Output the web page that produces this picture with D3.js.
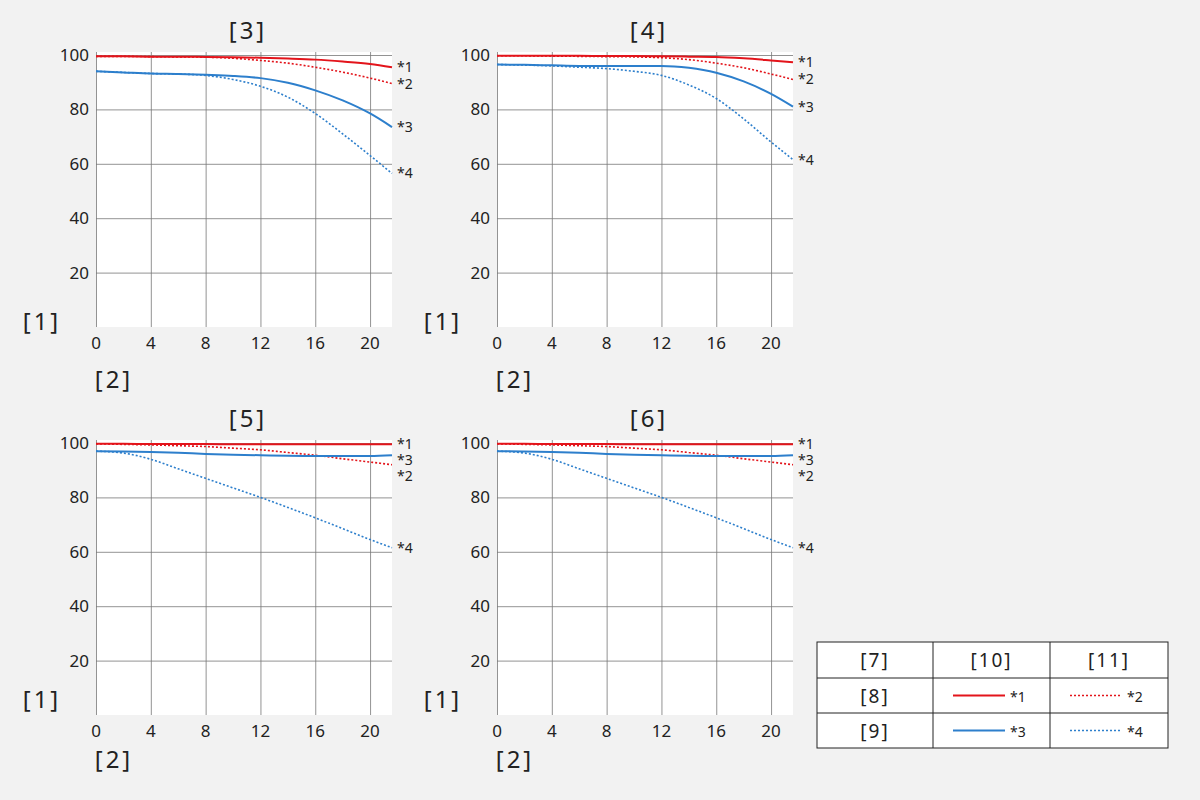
<!DOCTYPE html>
<html><head><meta charset="utf-8">
<script src="https://cdn.jsdelivr.net/npm/d3@7.9.0/dist/d3.min.js"></script>
<style>
body{margin:0;background:#f2f2f2;font-family:"Noto Sans","Open Sans",sans-serif;}
</style></head>
<body><svg id="chart" width="1200" height="800"></svg>
<script>
const xs = [0, 2, 4, 6, 8, 10, 12, 14, 16, 18, 20, 21.6];
const xTicks = [0, 4, 8, 12, 16, 20];
const yTicks = [20, 40, 60, 80, 100];
const panelTitles = ['[3]', '[4]', '[5]', '[6]'];
const seriesNames = ['*1', '*2', '*3', '*4'];

// values per panel, series order *1..*4
const panel3 = [
  [99.5, 99.5, 99.4, 99.4, 99.3, 99.2, 99.0, 98.7, 98.3, 97.6, 96.7, 95.5],
  [99.5, 99.5, 99.4, 99.3, 99.2, 98.8, 98.0, 97.0, 95.5, 93.7, 91.5, 89.5],
  [94.0, 93.6, 93.2, 93.0, 92.7, 92.3, 91.5, 89.8, 87.0, 83.3, 78.5, 73.5],
  [94.0, 93.6, 93.2, 93.0, 92.5, 91.0, 88.5, 84.5, 78.5, 71.0, 63.0, 56.5],
];
const panel4 = [
  [99.7, 99.7, 99.7, 99.7, 99.6, 99.6, 99.5, 99.4, 99.3, 98.8, 98.0, 97.3],
  [99.7, 99.7, 99.6, 99.5, 99.4, 99.3, 99.0, 98.3, 97.0, 95.3, 93.0, 91.0],
  [96.5, 96.4, 96.2, 96.0, 96.0, 96.0, 96.0, 95.3, 93.5, 90.3, 85.7, 81.0],
  [96.5, 96.3, 96.0, 95.5, 95.0, 94.0, 92.5, 89.0, 84.0, 76.5, 68.0, 61.5],
];
const panel5 = [
  [99.7, 99.7, 99.6, 99.6, 99.6, 99.5, 99.5, 99.5, 99.5, 99.5, 99.5, 99.5],
  [99.7, 99.5, 99.3, 99.0, 98.7, 98.1, 97.5, 96.5, 95.5, 94.2, 93.0, 92.0],
  [97.0, 96.9, 96.7, 96.4, 96.0, 95.7, 95.5, 95.3, 95.2, 95.2, 95.2, 95.5],
  [97.0, 96.3, 94.0, 90.5, 87.0, 83.5, 80.0, 76.3, 72.5, 68.5, 64.5, 61.5],
];
const panel6 = [
  [99.7, 99.7, 99.6, 99.6, 99.6, 99.5, 99.5, 99.5, 99.5, 99.5, 99.5, 99.5],
  [99.7, 99.5, 99.3, 99.0, 98.7, 98.1, 97.5, 96.5, 95.5, 94.2, 93.0, 92.0],
  [97.0, 96.9, 96.7, 96.4, 96.0, 95.7, 95.5, 95.3, 95.2, 95.2, 95.2, 95.5],
  [97.0, 96.3, 94.0, 90.5, 87.0, 83.5, 80.0, 76.3, 72.5, 68.5, 64.5, 61.5],
];
const panels = [panel3, panel4, panel5, panel6];

const RED = '#e3141b', BLUE = '#2d7fcc';
const styles = [
  { color: RED, dash: null, w: 2 },
  { color: RED, dash: '2,2', w: 1.6 },
  { color: BLUE, dash: null, w: 2 },
  { color: BLUE, dash: '2,2', w: 1.6 },
];

const svg = d3.select('#chart');
const origins = [[96, 52], [497, 52], [96, 440], [497, 440]];
const axisLabelDy = [[0, 0], [0, 0], [-10, -8], [-10, -8]];
const pw = 296, ph = 275;

panels.forEach((data, pi) => {
  const [ox, oy] = origins[pi];
  const x = d3.scaleLinear().domain([0, 21.6]).range([ox, ox + pw]);
  const y = d3.scaleLinear().domain([0, 100]).range([oy + ph, oy + 3]);
  const g = svg.append('g');

  g.append('rect').attr('x', ox).attr('y', oy).attr('width', pw).attr('height', ph).attr('fill', '#fff');

  g.append('g').attr('transform', `translate(0,${oy + ph})`)
    .call(d3.axisBottom(x).tickValues(xTicks).tickSize(-ph).tickFormat(''))
    .call((a) => { a.select('.domain').remove(); a.selectAll('line').attr('stroke', '#777').attr('stroke-width', 0.8); });
  g.append('g').attr('transform', `translate(${ox},0)`)
    .call(d3.axisLeft(y).tickValues(yTicks).tickSize(-pw).tickFormat(''))
    .call((a) => { a.select('.domain').remove(); a.selectAll('line').attr('stroke', '#777').attr('stroke-width', 0.8); });

  g.selectAll('.xt').data(xTicks).join('text')
    .attr('x', (d) => x(d)).attr('y', oy + ph + 22).attr('text-anchor', 'middle')
    .attr('font-size', 17).attr('fill', '#222').text((d) => d);
  g.selectAll('.yt').data(yTicks).join('text')
    .attr('x', ox - 7).attr('y', (d) => y(d) + 6).attr('text-anchor', 'end')
    .attr('font-size', 17).attr('fill', '#222').text((d) => d);

  g.append('text').attr('x', ox + pw / 2 + 4).attr('y', oy - 13).attr('text-anchor', 'middle')
    .attr('font-size', 24).attr('letter-spacing', 3).attr('fill', '#222').text(panelTitles[pi]);
  g.append('text').attr('x', ox - 54).attr('y', oy + ph + 3 + axisLabelDy[pi][0]).attr('text-anchor', 'middle')
    .attr('font-size', 24).attr('letter-spacing', 3).attr('fill', '#222').text('[1]');
  g.append('text').attr('x', ox + 18).attr('y', oy + ph + 61 + axisLabelDy[pi][1]).attr('text-anchor', 'middle')
    .attr('font-size', 24).attr('letter-spacing', 3).attr('fill', '#222').text('[2]');

  const line = d3.line().x((d, i) => x(xs[i])).y((d) => y(d)).curve(d3.curveMonotoneX);
  data.forEach((s, si) => {
    g.append('path').attr('d', line(s)).attr('fill', 'none')
      .attr('stroke', styles[si].color).attr('stroke-width', styles[si].w)
      .attr('stroke-dasharray', styles[si].dash);
  });

  // end labels, pushed apart
  const labels = data.map((s, si) => ({ name: seriesNames[si], y: y(s[s.length - 1]) }))
    .sort((a, b) => a.y - b.y);
  for (let i = 1; i < labels.length; i++) {
    if (labels[i].y - labels[i - 1].y < 16) labels[i].y = labels[i - 1].y + 16;
  }
  labels.forEach((l) => {
    g.append('text').attr('x', ox + pw + 5).attr('y', l.y + 5).attr('font-size', 14)
      .attr('fill', '#222').text(l.name);
  });
});

// legend table
const colX = [817, 933, 1050, 1168];
const rowY = [642, 678, 713, 748];
const leg = svg.append('g');
leg.append('rect').attr('x', colX[0]).attr('y', rowY[0]).attr('width', colX[3] - colX[0])
  .attr('height', rowY[3] - rowY[0]).attr('fill', '#fff').attr('stroke', '#222').attr('stroke-width', 1);
colX.slice(1, 3).forEach((cx) => leg.append('line').attr('x1', cx).attr('x2', cx).attr('y1', rowY[0]).attr('y2', rowY[3]).attr('stroke', '#222'));
rowY.slice(1, 3).forEach((ry) => leg.append('line').attr('x1', colX[0]).attr('x2', colX[3]).attr('y1', ry).attr('y2', ry).attr('stroke', '#222'));
const cellText = (c, r, t) => leg.append('text').attr('x', (colX[c] + colX[c + 1]) / 2)
  .attr('y', (rowY[r] + rowY[r + 1]) / 2 + 7).attr('text-anchor', 'middle')
  .attr('font-size', 19).attr('letter-spacing', 2).attr('fill', '#222').text(t);
cellText(0, 0, '[7]'); cellText(1, 0, '[10]'); cellText(2, 0, '[11]');
cellText(0, 1, '[8]'); cellText(0, 2, '[9]');
seriesNames.forEach((n, si) => {
  const c = 1 + (si % 2), r = 1 + Math.floor(si / 2);
  const cy = (rowY[r] + rowY[r + 1]) / 2;
  const x0 = colX[c] + 20;
  leg.append('line').attr('x1', x0).attr('x2', x0 + 52).attr('y1', cy).attr('y2', cy)
    .attr('stroke', styles[si].color).attr('stroke-width', styles[si].w)
    .attr('stroke-dasharray', styles[si].dash);
  leg.append('text').attr('x', x0 + 57).attr('y', cy + 6).attr('font-size', 14).attr('fill', '#222').text(n);
});
</script>
</body></html>
